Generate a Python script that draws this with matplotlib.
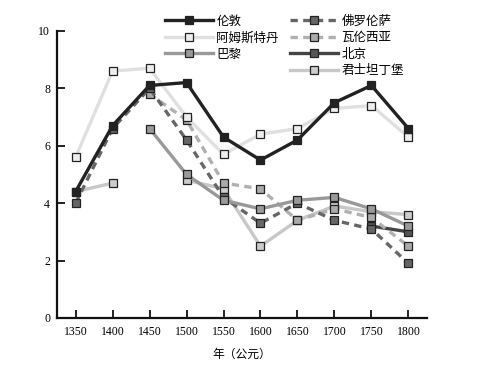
import numpy as np
import matplotlib
matplotlib.use("Agg")
import matplotlib.pyplot as plt
from matplotlib.lines import Line2D

plt.rcParams['font.family'] = ['Noto Sans CJK SC', 'DejaVu Sans']

years = [1350, 1400, 1450, 1500, 1550, 1600, 1650, 1700, 1750, 1800]
nan = np.nan

london = [4.4, 6.7, 8.1, 8.2, 6.3, 5.5, 6.2, 7.5, 8.1, 6.6]
amsterdam = [5.6, 8.6, 8.7, 7.0, 5.7, 6.4, 6.6, 7.3, 7.4, 6.3]
paris = [nan, nan, 6.6, 5.0, 4.1, 3.8, 4.1, 4.2, 3.8, 3.2]
florence = [4.0, 6.6, 8.0, 6.2, 4.2, 3.3, 4.0, 3.4, 3.1, 1.9]
valencia = [nan, nan, 7.8, 6.9, 4.7, 4.5, 3.4, 3.8, 3.5, 2.5]
beijing = [nan, nan, nan, nan, nan, nan, nan, nan, 3.2, 3.0]
istanbul = [4.4, 4.7, nan, 4.8, 4.5, 2.5, 3.4, 3.9, 3.7, 3.6]

yticks = [0, 2, 4, 6, 8, 10]

# name, data, line colour, marker colour, dashed
series = [
    ("伦敦", london, "#222222", "#222222", False),
    ("阿姆斯特丹", amsterdam, "#e0e0e0", "#eeeeee", False),
    ("巴黎", paris, "#999999", "#999999", False),
    ("佛罗伦萨", florence, "#666666", "#666666", True),
    ("瓦伦西亚", valencia, "#b0b0b0", "#aaaaaa", True),
    ("北京", beijing, "#444444", "#555555", False),
    ("君士坦丁堡", istanbul, "#c8c8c8", "#cccccc", False),
]

fig = plt.figure(figsize=(4.84, 3.68), dpi=100)
ax = fig.add_axes([0.118, 0.136, 0.764, 0.780])

handles = []
for name, vals, lc, mc, dashed in reversed(series):
    line, = ax.plot(years, vals, color=lc, lw=2.4, marker="s", markersize=6,
                    markerfacecolor=mc, markeredgecolor="#222222",
                    markeredgewidth=0.9, label=name)
    if dashed:
        line.set_dashes((2.2, 1.6))
    handles.append(line)
handles = handles[::-1]

# empty slot so the first column holds three entries
blank = Line2D([], [], color="none", label=" ")
leg_handles = handles[:3] + [blank] + handles[3:]
ax.legend(handles=leg_handles, ncol=2, loc="upper center",
          bbox_to_anchor=(0.615, 1.056), frameon=False, fontsize=9,
          handlelength=3.8, handletextpad=0.3, columnspacing=0.9,
          labelspacing=0.28, borderaxespad=0, borderpad=0)

ax.set_xlim(1325, 1825)
ax.set_ylim(0, 10)
ax.set_xticks(years)
ax.set_yticks(yticks)
ax.spines["top"].set_visible(False)
ax.spines["right"].set_visible(False)
for s in ["left", "bottom"]:
    ax.spines[s].set_linewidth(1.6)
    ax.spines[s].set_color("#111111")
ax.tick_params(direction="in", length=6, width=1.3, color="#111111")
for lab in ax.get_xticklabels() + ax.get_yticklabels():
    lab.set_fontfamily("Liberation Serif")
    lab.set_fontsize(8.5)
ax.tick_params(axis="x", pad=6)
ax.tick_params(axis="y", pad=5)
ax.set_xlabel("年（公元）", fontsize=8.5, labelpad=7)

fig.savefig("out.png", dpi=100)
